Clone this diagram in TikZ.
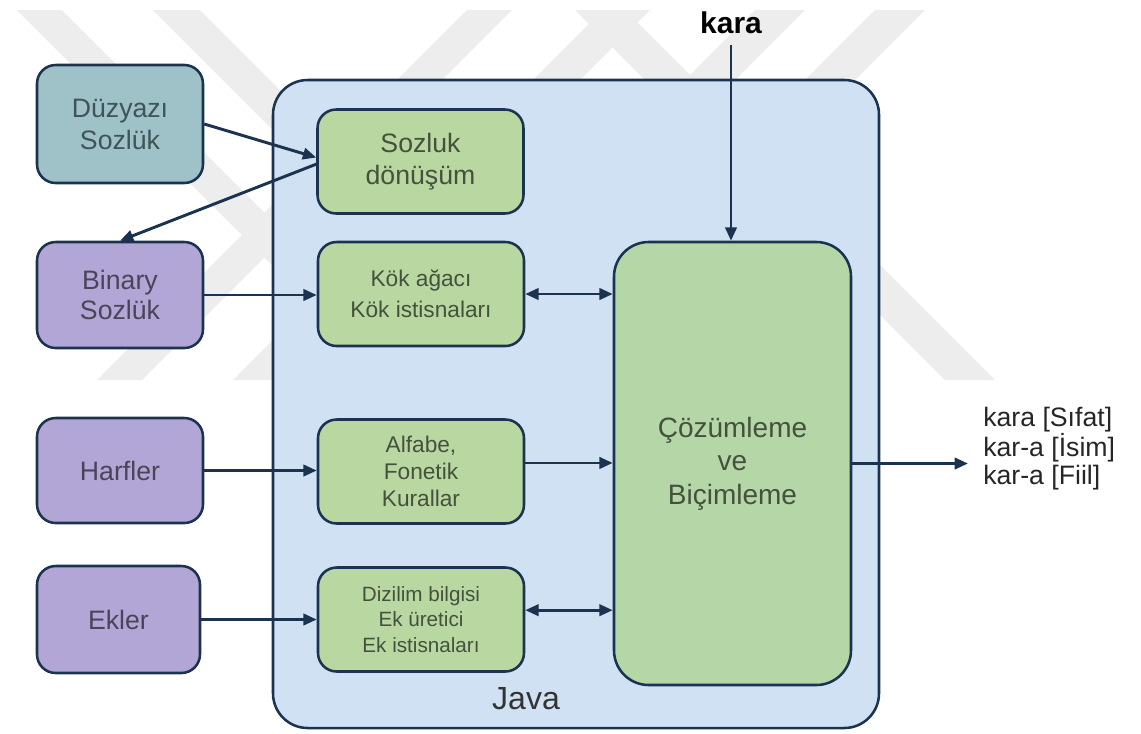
\documentclass[tikz,border=0pt]{standalone}
\usepackage{fontspec}
\setmainfont{Liberation Sans}
\usetikzlibrary{arrows.meta}
\definecolor{navy}{HTML}{1C3350}
\definecolor{duzfill}{HTML}{9EC2C8}
\definecolor{purp}{HTML}{B2A6D6}
\definecolor{grn}{HTML}{B9D7A1}
\definecolor{grn2}{HTML}{B5D6A6}
\definecolor{javabg}{HTML}{CFE1F3}
\definecolor{wm}{HTML}{EDEDED}
\definecolor{txtg}{HTML}{44523D}
\definecolor{txtp}{HTML}{4A4458}
\definecolor{txtt}{HTML}{3E5458}
\begin{document}
\begin{tikzpicture}[x=0.75pt,y=-0.75pt,
  box/.style={draw=navy, line width=1.9pt, rounded corners=14pt, align=center, inner sep=0pt},
  srcbox/.style={box, fill=purp, text=txtp, font=\fontsize{20}{23}\selectfont, minimum width=124.5pt},
  modbox/.style={box, fill=grn, text=txtg, minimum width=154.5pt, minimum height=78pt},
  arr/.style={draw=navy, line width=2.2pt, -{Triangle[length=10pt,width=8.5pt]}},
  darr/.style={draw=navy, line width=2.2pt, {Triangle[length=10pt,width=8.5pt]}-{Triangle[length=10pt,width=8.5pt]}},
  wmband/.style={fill=wm, draw=none}
]
\useasboundingbox (0,0) rectangle (1141,733);
% watermark
\fill[wmband] (17,10) -- (62,10) -- (432,380) -- (387,380) -- cycle;
\fill[wmband] (153,10) -- (200,10) -- (570,380) -- (523,380) -- cycle;
\fill[wmband] (467,10) -- (512,10) -- (142,380) -- (97,380) -- cycle;
\fill[wmband] (603,10) -- (650,10) -- (280,380) -- (233,380) -- cycle;
\fill[wmband] (875,10) -- (925,10) -- (555,380) -- (505,380) -- cycle;
\fill[wmband] (755,10) -- (805,10) -- (435,380) -- (385,380) -- cycle;
\fill[wmband] (575,10) -- (625,10) -- (995,380) -- (945,380) -- cycle;

% container
\node[box, fill=javabg, rounded corners=26pt, minimum width=454.5pt, minimum height=486pt] (java) at (576,404) {};
\node[anchor=base, font=\fontsize{24}{28}\selectfont, text=black!80] (javalbl) at (526,709) {Java};

% left sources
\node[box, fill=duzfill, text=txtt, font=\fontsize{20}{24}\selectfont, minimum width=124.5pt, minimum height=88.5pt] (duz) at (120,124) {Düzyazı\\Sozlük};
\node[srcbox, minimum height=79.5pt] (bin) at (120,295) {Binary\\Sozlük};
\node[srcbox, minimum height=78.75pt] (harf) at (120,470.5) {Harfler};
\node[srcbox, minimum width=122.25pt, minimum height=80.25pt] (ekler) at (118.5,619.5) {Ekler};

% modules
\node[modbox, font=\fontsize{20}{24}\selectfont] (soz) at (420.5,161.5) {Sozluk\\dönüşüm};
\node[modbox, font=\fontsize{17}{23}\selectfont] (kok) at (421,294) {Kök ağacı\\Kök istisnaları};
\node[modbox, font=\fontsize{17}{20.5}\selectfont] (alf) at (421,471.5) {Alfabe,\\Fonetik\\Kurallar};
\node[modbox, font=\fontsize{15.5}{19}\selectfont] (diz) at (421,619.5) {Dizilim bilgisi\\Ek üretici\\Ek istisnaları};
\node[box, fill=grn2, text=txtg, rounded corners=26pt, minimum width=177.75pt, minimum height=332.25pt, font=\fontsize{21}{25}\selectfont] (coz) at (732.5,463.5) {Çözümleme\\ve\\Biçimleme};

% input / output
\node[anchor=base, font=\bfseries\fontsize{22.5}{26}\selectfont] (kara) at (731,33) {kara};
\coordinate (outtip) at (968,463.5);
\node[anchor=west, inner sep=0pt, align=left, font=\fontsize{20}{21}\selectfont, text=black!85] (out) at (983,449) {kara [Sıfat]\\kar-a [İsim]\\kar-a [Fiil]};

% connectors
\draw[arr] (duz.east) -- ([yshift=3pt]soz.west);
\draw[arr] ([yshift=-2pt]soz.west) -- (bin.north);
\draw[arr] (bin.east) -- (bin.east -| kok.west);
\draw[darr] (kok.east) -- (kok.east -| coz.west);
\draw[arr] (harf.east) -- (harf.east -| alf.west);
\draw[arr] ([yshift=6.4pt]alf.east) -- ([yshift=6.4pt]alf.east -| coz.west);
\draw[arr] (ekler.east) -- (ekler.east -| diz.west);
\draw[darr] ([yshift=7pt]diz.east) -- ([yshift=7pt]diz.east -| coz.west);
\draw[arr] ([yshift=-5pt]kara.south) -- (kara.south |- coz.north);
\draw[arr] (coz.east) -- (outtip);
\end{tikzpicture}
\end{document}
